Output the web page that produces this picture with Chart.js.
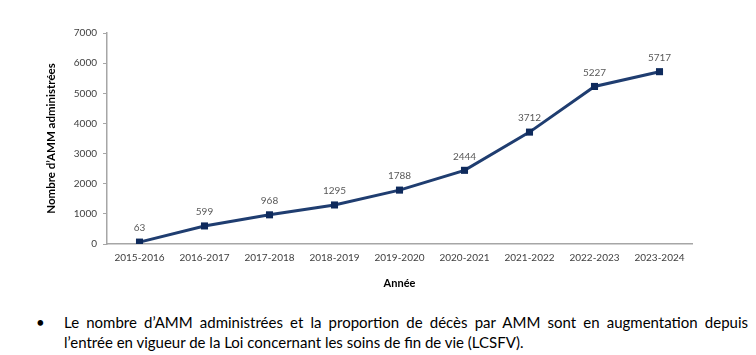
<!DOCTYPE html>
<html><head><meta charset="utf-8">
<script src="https://cdn.jsdelivr.net/npm/chart.js@4"></script>
<style>
html,body{margin:0;padding:0;background:#fff;width:756px;height:355px;overflow:hidden;}
#wrap{position:absolute;left:0;top:0;width:756px;height:300px;}
#note{position:absolute;left:36px;top:312px;width:712px;font-family:"Liberation Sans Narrow",Lato,sans-serif;font-size:15px;line-height:20px;color:#000;}
#note .b{position:absolute;left:0;top:0;}
#note .l1{margin-left:28px;text-align:justify;text-align-last:justify;}
#note .l2{margin-left:28px;text-align:left;}
</style></head><body>
<div id="wrap"><canvas id="c" width="756" height="300"></canvas></div>
<div id="note"><span class="b">•</span><div class="l1">Le nombre d’AMM administrées et la proportion de décès par AMM sont en augmentation depuis</div><div class="l2">l’entrée en vigueur de la Loi concernant les soins de fin de vie (LCSFV).</div></div>
<script>
const categories = ["2015-2016","2016-2017","2017-2018","2018-2019","2019-2020","2020-2021","2021-2022","2022-2023","2023-2024"];
const ammValues = [63,599,968,1295,1788,2444,3712,5227,5717];
const yTicks = [0,1000,2000,3000,4000,5000,6000,7000];

const labelPlugin = {
  id:'labels',
  afterDatasetsDraw(chart){
    const ctx = chart.ctx;
    const meta = chart.getDatasetMeta(0);
    ctx.save();
    ctx.font = '10px Lato, "Liberation Sans", sans-serif';
    ctx.fillStyle = '#595959';
    ctx.textAlign = 'center';
    ctx.textBaseline = 'bottom';
    meta.data.forEach((p,i)=>{
      ctx.fillText(String(ammValues[i]), p.x, p.y - 9);
    });
    ctx.restore();
  }
};

new Chart(document.getElementById('c'),{
  type:'line',
  data:{labels:categories,datasets:[{
    data:ammValues,
    borderColor:'#1F3D70',
    backgroundColor:'#0E2A5C',
    borderWidth:3,
    pointStyle:'rect',
    pointRadius:5,
    pointBorderWidth:0,
    pointBackgroundColor:'#0E2A5C',
    tension:0
  }]},
  options:{
    responsive:false,animation:false,
    layout:{padding:{left:40,right:64,top:33,bottom:8}},
    plugins:{legend:{display:false},tooltip:{enabled:false}},
    scales:{
      x:{
        offset:true,
        grid:{display:true,drawOnChartArea:false,drawTicks:false,color:'#A6A6A6'},
        border:{color:'#A6A6A6',width:1.5},
        ticks:{color:'#404040',font:{family:'Lato, "Liberation Sans", sans-serif',size:10},padding:8,maxRotation:0},
        title:{display:true,text:'Année',color:'#000',font:{family:'Lato, "Liberation Sans", sans-serif',size:11,weight:'bold'},padding:{top:4,bottom:2}},
        afterFit(s){s.height=48;}
      },
      y:{
        min:0,max:7000,
        afterBuildTicks(s){s.ticks=yTicks.map(v=>({value:v}));},
        grid:{display:true,drawOnChartArea:false,tickLength:4,color:'#A6A6A6'},
        border:{color:'#A6A6A6',width:1.5},
        ticks:{color:'#404040',font:{family:'Lato, "Liberation Sans", sans-serif',size:10},padding:6,callback:v=>String(v)},
        title:{display:true,text:'Nombre d’AMM administrées',color:'#000',font:{family:'Lato, "Liberation Sans", sans-serif',size:11.5,weight:'bold'},padding:{top:4,bottom:4}},
        afterFit(s){s.width=67;}
      }
    }
  },
  plugins:[labelPlugin]
});
</script>
</body></html>
